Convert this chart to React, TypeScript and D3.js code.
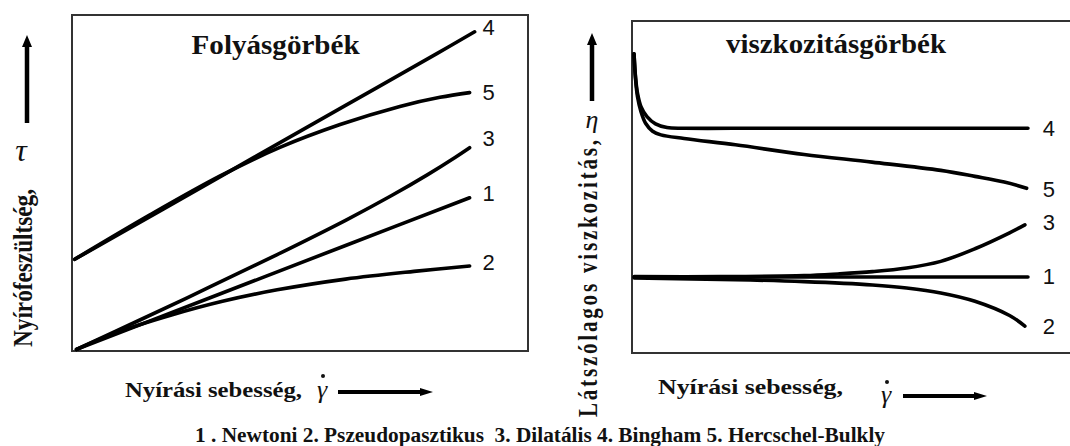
import React from 'react';
import * as d3 from 'd3';

const W = 1070;
const H = 446;

// ---------- Left panel: Folyásgörbék (relative units 0–100) ----------
const flow1X = [1, 30, 60, 87.2];
const flow1Y = [0.5, 15.7, 31.4, 45.6];
const flow2X = [1, 10, 22, 33, 45, 60, 75, 87.2];
const flow2Y = [0.5, 5.6, 10.8, 14.8, 18.2, 21.4, 23.7, 25.3];
const flow3X = [1, 15, 30, 45, 60, 70, 78, 84, 87.2];
const flow3Y = [0.5, 9.3, 18.9, 28.7, 38.9, 46.2, 52.5, 57.6, 60.5];
const flow4X = [0.6, 20, 40, 60, 80, 88.3];
const flow4Y = [27.3, 42.2, 57.7, 73.1, 88.5, 95];
const flow5X = [0.6, 17.1, 32.5, 45.6, 58.8, 71.9, 80.7, 87.2];
const flow5Y = [27.3, 40.5, 52.1, 60.6, 67.4, 72.8, 75.5, 76.9];

// ---------- Right panel: viszkozitásgörbék (relative units 0–100) ----------
const visc1X = [0.5, 30, 60, 90.4];
const visc1Y = [22.9, 22.9, 22.9, 22.9];
const visc2X = [0.5, 23.6, 39.3, 54.9, 62.7, 70.5, 78.3, 86.2, 89.7];
const visc2Y = [22.6, 22.1, 21.5, 20.5, 19.6, 18.1, 15.6, 11.3, 8.1];
const visc3X = [0.5, 20, 39.3, 47, 54.9, 62.7, 70.5, 78.3, 86.2, 89.7];
const visc3Y = [23.0, 23.0, 23.3, 23.8, 24.5, 25.6, 27.6, 31.4, 36.2, 38.6];
const visc4X = [0.46, 0.8, 1.26, 2.05, 3.42, 5.37, 7.99, 12, 30, 60, 90.4];
const visc4Y = [90.1, 83.2, 78.2, 74.2, 71.2, 69.0, 67.9, 67.7, 67.7, 67.7, 67.7];
const visc5X = [0.46, 0.8, 1.26, 2.05, 3.1, 4.7, 6.6, 11.9, 23.6, 39.3, 54.8, 70.5, 78.3, 85, 90.1];
const visc5Y = [90.1, 82.7, 77.2, 72.7, 69.2, 66.8, 65.7, 64.6, 62.7, 59.8, 57.5, 55.0, 53.2, 51.5, 49.6];

const seriesLabels = ['1', '2', '3', '4', '5'];
const flowTitle = 'Folyásgörbék';
const viscTitle = 'viszkozitásgörbék';
const flowYLabel = 'Nyírófeszültség,';
const viscYLabel = 'Látszólagos viszkozitás,';
const xLabel = 'Nyírási sebesség,';
const legendText = '1 . Newtoni 2. Pszeudopasztikus  3. Dilatális 4. Bingham 5. Hercschel-Bulkly';

const flowSeries = [
  { label: seriesLabels[0], xs: flow1X, ys: flow1Y, dy: -4 },
  { label: seriesLabels[1], xs: flow2X, ys: flow2Y, dy: -3 },
  { label: seriesLabels[2], xs: flow3X, ys: flow3Y, dy: -9 },
  { label: seriesLabels[3], xs: flow4X, ys: flow4Y, dy: -4 },
  { label: seriesLabels[4], xs: flow5X, ys: flow5Y, dy: 0 },
];
const viscSeries = [
  { label: seriesLabels[0], xs: visc1X, ys: visc1Y, dy: 0 },
  { label: seriesLabels[1], xs: visc2X, ys: visc2Y, dy: 0 },
  { label: seriesLabels[2], xs: visc3X, ys: visc3Y, dy: -2 },
  { label: seriesLabels[3], xs: visc4X, ys: visc4Y, dy: 0 },
  { label: seriesLabels[4], xs: visc5X, ys: visc5Y, dy: 1 },
];

const SERIF = '"Liberation Serif", "Times New Roman", serif';
const SANS = '"Liberation Sans", Arial, sans-serif';

function vArrow(x: number, yTip: number, yEnd: number, shaft = 4.5, headW = 10, headL = 12) {
  const s = shaft / 2;
  const h = headW / 2;
  return `M${x - s},${yEnd} L${x - s},${yTip + headL} L${x - h},${yTip + headL} L${x},${yTip} L${x + h},${yTip + headL} L${x + s},${yTip + headL} L${x + s},${yEnd} Z`;
}
function hArrow(xStart: number, xTip: number, y: number, shaft = 4, headW = 8, headL = 13) {
  const s = shaft / 2;
  const h = headW / 2;
  return `M${xStart},${y - s} L${xTip - headL},${y - s} L${xTip - headL},${y - h} L${xTip},${y} L${xTip - headL},${y + h} L${xTip - headL},${y + s} L${xStart},${y + s} Z`;
}

function Panel({ series, x, y, labelX }: any) {
  const line = d3
    .line<[number, number]>()
    .x((d) => x(d[0]))
    .y((d) => y(d[1]))
    .curve(d3.curveCatmullRom.alpha(0.5));
  return (
    <g>
      {series.map((s: any) => {
        const pts: [number, number][] = s.xs.map((v: number, i: number) => [v, s.ys[i]]);
        return (
          <path
            key={'p' + s.label}
            d={line(pts) || ''}
            fill="none"
            stroke="#000"
            strokeWidth={3.6}
            strokeLinecap="round"
            strokeLinejoin="round"
          />
        );
      })}
      {series.map((s: any) => (
        <text
          key={'t' + s.label}
          x={x(labelX)}
          y={y(s.ys[s.ys.length - 1]) + s.dy}
          dominantBaseline="central"
          fontFamily={SANS}
          fontSize={22}
          fill="#111"
        >
          {s.label}
        </text>
      ))}
    </g>
  );
}

export default function App() {
  const xL = d3.scaleLinear().domain([0, 100]).range([72, 528]);
  const yL = d3.scaleLinear().domain([0, 100]).range([351, 15]);
  const xR = d3.scaleLinear().domain([0, 100]).range([632, 1070]);
  const yR = d3.scaleLinear().domain([0, 100]).range([353, 21]);

  return (
    <svg
      width={W}
      height={H}
      viewBox={`0 0 ${W} ${H}`}
      style={{ position: 'absolute', left: 0, top: 0, background: '#fff' }}
    >
      <rect x={0} y={0} width={W} height={H} fill="#fff" />

      {/* frames */}
      <rect x={xL(0)} y={yL(100)} width={xL(100) - xL(0)} height={yL(0) - yL(100)} fill="none" stroke="#333" strokeWidth={2} />
      <rect x={xR(0)} y={yR(100)} width={xR(100) - xR(0) + 10} height={yR(0) - yR(100)} fill="none" stroke="#333" strokeWidth={2} />

      {/* titles */}
      <text x={275.6} y={54} textAnchor="middle" fontFamily={SERIF} fontWeight="bold" fontSize={28} textLength={168} lengthAdjust="spacingAndGlyphs" fill="#111">
        {flowTitle}
      </text>
      <text x={836} y={53} textAnchor="middle" fontFamily={SERIF} fontWeight="bold" fontSize={28} textLength={220} lengthAdjust="spacingAndGlyphs" fill="#111">
        {viscTitle}
      </text>

      <Panel series={flowSeries} x={xL} y={yL} labelX={90} />
      <Panel series={viscSeries} x={xR} y={yR} labelX={93.8} />

      {/* left y axis label */}
      <path d={vArrow(27, 35, 123)} fill="#000" />
      <text x={21} y={150} textAnchor="middle" dominantBaseline="central" fontFamily={SERIF} fontStyle="italic" fontSize={32} fill="#111">
        τ
      </text>
      <text
        transform="translate(32,347) rotate(-90) scale(1,1.3)"
        fontFamily={SERIF}
        fontWeight="bold"
        fontSize={21}
        textLength={158}
        lengthAdjust="spacingAndGlyphs"
        fill="#111"
      >
        {flowYLabel}
      </text>

      {/* right y axis label */}
      <path d={vArrow(592, 33, 101)} fill="#000" />
      <text x={592} y={119} textAnchor="middle" dominantBaseline="central" fontFamily={SERIF} fontStyle="italic" fontSize={26} fill="#111">
        η
      </text>
      <text
        transform="translate(597,417) rotate(-90) scale(1,1.3)"
        fontFamily={SERIF}
        fontWeight="bold"
        fontSize={21}
        textLength={277}
        lengthAdjust="spacing"
        fill="#111"
      >
        {viscYLabel}
      </text>

      {/* x axis labels */}
      <text x={125} y={397} fontFamily={SERIF} fontWeight="bold" fontSize={21} textLength={177} lengthAdjust="spacingAndGlyphs" fill="#111">
        {xLabel}
      </text>
      <text x={322} y={398} textAnchor="middle" fontFamily={SERIF} fontStyle="italic" fontSize={26} fill="#111">
        γ
      </text>
      <circle cx={323} cy={376} r={2} fill="#111" />
      <path d={hArrow(338, 433, 392)} fill="#000" />

      <text x={658} y={394} fontFamily={SERIF} fontWeight="bold" fontSize={21} textLength={185} lengthAdjust="spacingAndGlyphs" fill="#111">
        {xLabel}
      </text>
      <text x={886} y={403} textAnchor="middle" fontFamily={SERIF} fontStyle="italic" fontSize={26} fill="#111">
        γ
      </text>
      <circle cx={887} cy={382} r={2} fill="#111" />
      <path d={hArrow(903, 987, 396)} fill="#000" />

      {/* legend */}
      <text x={195} y={442} fontFamily={SERIF} fontWeight="bold" fontSize={20} textLength={690} lengthAdjust="spacingAndGlyphs" fill="#111" style={{ whiteSpace: 'pre' }}>
        {legendText}
      </text>
    </svg>
  );
}
